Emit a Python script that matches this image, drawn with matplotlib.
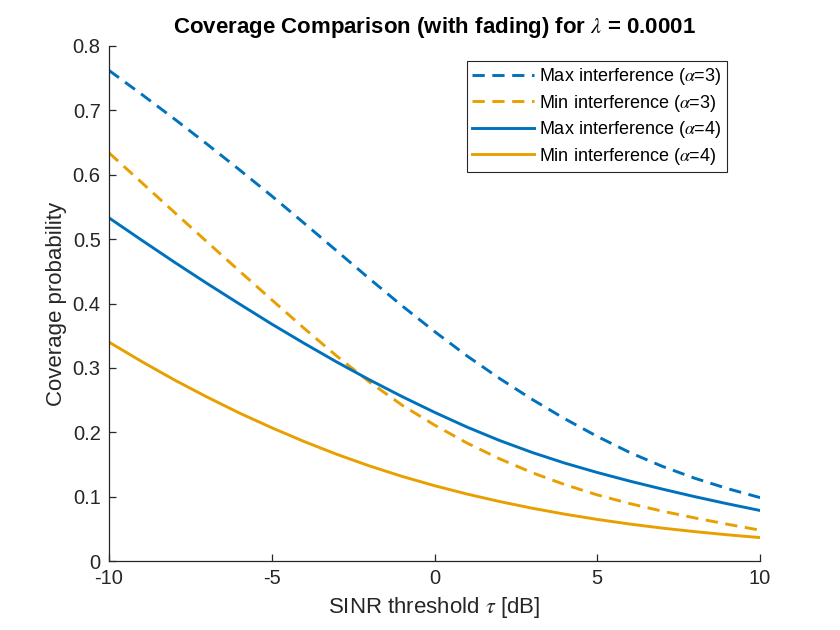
import numpy as np
import matplotlib
matplotlib.use("Agg")
import matplotlib.pyplot as plt

plt.rcParams['font.family'] = ['Liberation Sans', 'DejaVu Sans']
plt.rcParams['mathtext.fontset'] = 'stix'

# SINR threshold (dB)
tau_db = [-10, -9, -8, -7, -6, -5, -4, -3, -2, -1, 0, 1, 2, 3, 4, 5, 6, 7, 8, 9, 10]

# coverage probability
max_a3 = [0.762, 0.725, 0.687, 0.648, 0.608, 0.567, 0.5245, 0.4815, 0.4385, 0.3965, 0.3565,
          0.3185, 0.2835, 0.251, 0.221, 0.1935, 0.1685, 0.147, 0.1285, 0.1125, 0.0985]
min_a3 = [0.634, 0.588, 0.542, 0.4962, 0.4507, 0.4057, 0.3612, 0.3182, 0.2782, 0.2422, 0.2112,
          0.1832, 0.1587, 0.1372, 0.1187, 0.1027, 0.0892, 0.0774, 0.0669, 0.0571, 0.0479]
max_a4 = [0.533, 0.4985, 0.4645, 0.4315, 0.3995, 0.368, 0.338, 0.309, 0.2815, 0.2555, 0.231,
          0.208, 0.1872, 0.1686, 0.1521, 0.1375, 0.1241, 0.1117, 0.0999, 0.0889, 0.0785]
min_a4 = [0.340, 0.310, 0.2815, 0.255, 0.230, 0.207, 0.1855, 0.1657, 0.1477, 0.1315, 0.117,
          0.104, 0.0924, 0.082, 0.0728, 0.0646, 0.0574, 0.0511, 0.0456, 0.0407, 0.0364]

labels = [r'Max interference ($\alpha$=3)', r'Min interference ($\alpha$=3)',
          r'Max interference ($\alpha$=4)', r'Min interference ($\alpha$=4)']
yticks = [0, 0.1, 0.2, 0.3, 0.4, 0.5, 0.6, 0.7, 0.8]
ytick_labels = ['0', '0.1', '0.2', '0.3', '0.4', '0.5', '0.6', '0.7', '0.8']
xticks = [-10, -5, 0, 5, 10]

blue = '#0072BD'
orange = '#E8A000'
lw = 2.1
dash = (4.2, 2.6)

fig = plt.figure(figsize=(8.4, 6.3), dpi=100)
ax = fig.add_axes([0.1298, 0.1095, 0.775, 0.8175])

ax.plot(tau_db, max_a3, color=blue, lw=lw, dashes=dash, label=labels[0])
ax.plot(tau_db, min_a3, color=orange, lw=lw, dashes=dash, label=labels[1])
ax.plot(tau_db, max_a4, color=blue, lw=lw, label=labels[2])
ax.plot(tau_db, min_a4, color=orange, lw=lw, label=labels[3])

ax.set_xlim(-10, 10)
ax.set_ylim(0, 0.8)
ax.set_xticks(xticks)
ax.set_xticklabels([str(v) for v in xticks])
ax.set_yticks(yticks)
ax.set_yticklabels(ytick_labels)

for s in ['top', 'right']:
    ax.spines[s].set_visible(False)
for s in ['left', 'bottom']:
    ax.spines[s].set_color('#262626')
    ax.spines[s].set_linewidth(0.9)
ax.tick_params(direction='in', length=5, width=0.9, colors='#262626',
               labelsize=14.5, pad=6)

ax.set_xlabel(r'SINR threshold $\tau$ [dB]', fontsize=16, color='#262626', labelpad=5)
ax.set_ylabel('Coverage probability', fontsize=16, color='#262626', labelpad=4)
ax.set_title(r'Coverage Comparison (with fading) for $\lambda$ = 0.0001',
             fontsize=16, fontweight='bold', pad=9)

leg = ax.legend(loc='upper right', bbox_to_anchor=(0.949, 0.971), fontsize=13,
                handlelength=3.4, handletextpad=0.3, borderpad=0.3, labelspacing=0.3,
                fancybox=False, framealpha=1, edgecolor='#262626', borderaxespad=0)
leg.get_frame().set_linewidth(0.8)

plt.savefig('out.png', dpi=100, facecolor='white')
